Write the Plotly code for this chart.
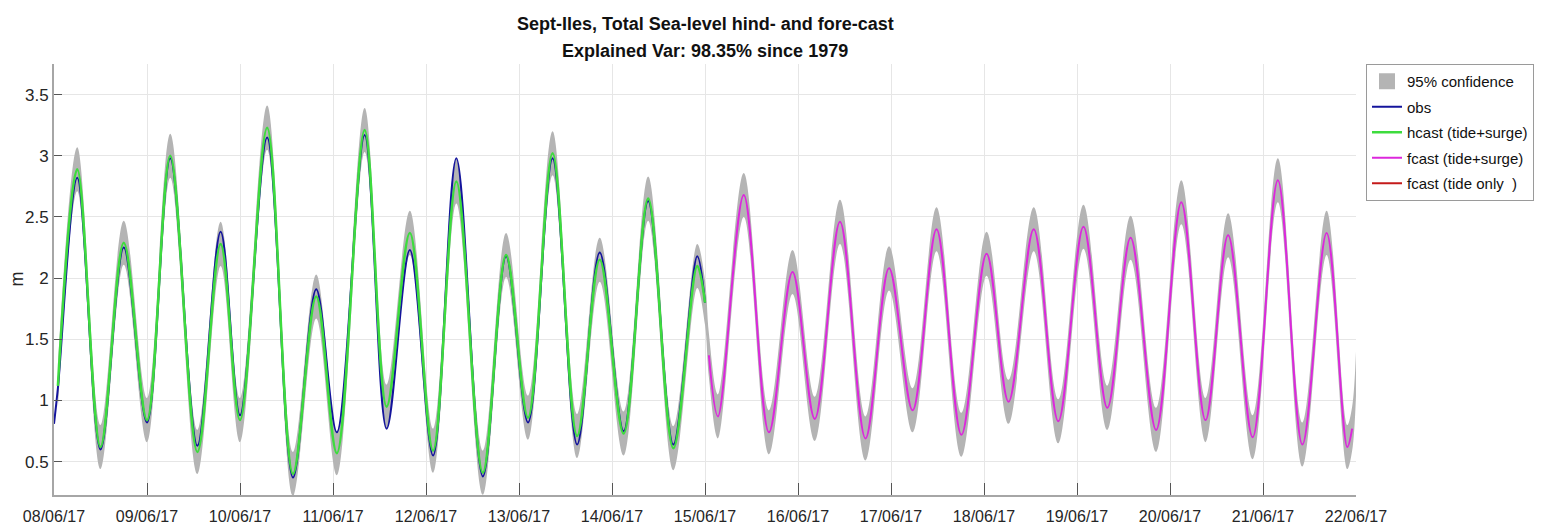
import plotly.graph_objects as go

# ---------------- data ----------------
obs_time = [
    "2017-06-08 00:00", "2017-06-08 01:00", "2017-06-08 06:00", "2017-06-08 12:00",
    "2017-06-08 18:00", "2017-06-09 00:00", "2017-06-09 06:00", "2017-06-09 13:00",
    "2017-06-09 19:00", "2017-06-10 00:00", "2017-06-10 07:00", "2017-06-10 13:40",
    "2017-06-10 19:40", "2017-06-11 01:00", "2017-06-11 08:10", "2017-06-11 13:50",
    "2017-06-11 19:50", "2017-06-12 01:50", "2017-06-12 07:50", "2017-06-12 14:40",
    "2017-06-12 20:40", "2017-06-13 02:20", "2017-06-13 08:40", "2017-06-13 15:00",
    "2017-06-13 20:50", "2017-06-14 03:00", "2017-06-14 09:20", "2017-06-14 15:50",
    "2017-06-14 22:00", "2017-06-15 00:00",
]
obs_m = [
    0.81, 1.10, 2.82, 0.60, 2.25, 0.82, 2.98, 0.63, 2.38, 0.88, 3.15, 0.37,
    1.91, 0.74, 3.17, 0.77, 2.23, 0.55, 2.98, 0.38, 2.18, 0.82, 2.98, 0.64,
    2.21, 0.75, 2.63, 0.64, 2.18, 1.80,
]

hcast_time = [
    "2017-06-08 01:00", "2017-06-08 06:00", "2017-06-08 12:00",
    "2017-06-08 18:00", "2017-06-09 00:00", "2017-06-09 06:00", "2017-06-09 13:00",
    "2017-06-09 19:00", "2017-06-10 00:00", "2017-06-10 07:00", "2017-06-10 13:40",
    "2017-06-10 19:40", "2017-06-11 01:00", "2017-06-11 08:10", "2017-06-11 13:50",
    "2017-06-11 19:50", "2017-06-12 01:50", "2017-06-12 07:50", "2017-06-12 14:40",
    "2017-06-12 20:40", "2017-06-13 02:20", "2017-06-13 08:40", "2017-06-13 15:00",
    "2017-06-13 20:50", "2017-06-14 03:00", "2017-06-14 09:20", "2017-06-14 15:50",
    "2017-06-14 22:00", "2017-06-15 00:00",
]
hcast_m = [
    1.12, 2.89, 0.62, 2.29, 0.84, 3.00, 0.58, 2.28, 0.84, 3.23, 0.40,
    1.85, 0.57, 3.21, 0.95, 2.37, 0.59, 2.79, 0.41, 2.19, 0.86, 3.02, 0.71,
    2.15, 0.73, 2.65, 0.61, 2.10, 1.80,
]

fcast_time = [
    "2017-06-15 01:00", "2017-06-15 03:20", "2017-06-15 10:00", "2017-06-15 16:30",
    "2017-06-15 22:35", "2017-06-16 04:20", "2017-06-16 10:50", "2017-06-16 17:25",
    "2017-06-16 23:30", "2017-06-17 05:35", "2017-06-17 11:45", "2017-06-17 18:10",
    "2017-06-18 00:40", "2017-06-18 06:20", "2017-06-18 12:50", "2017-06-18 19:10",
    "2017-06-19 01:40", "2017-06-19 07:50", "2017-06-19 13:50", "2017-06-19 20:25",
    "2017-06-20 02:55", "2017-06-20 09:10", "2017-06-20 15:00", "2017-06-20 21:20",
    "2017-06-21 03:50", "2017-06-21 10:10", "2017-06-21 16:25", "2017-06-21 21:45",
    "2017-06-21 23:00",
]
fcast_m = [
    1.37, 0.87, 2.68, 0.74, 2.05, 0.85, 2.46, 0.69, 2.08, 0.92, 2.40, 0.72,
    2.20, 0.99, 2.40, 0.83, 2.42, 0.94, 2.33, 0.76, 2.62, 0.84, 2.35, 0.70,
    2.80, 0.64, 2.37, 0.62, 0.77,
]

# last confidence-band sample (band extends one step beyond the forecast line)
band_end_time = ["2017-06-22 00:00"]
band_end_m = [1.22]
conf_half_width = 0.18  # half width of the 95% band (m)

x_tick_start = "2017-06-08 00:00"
x_tick_end = "2017-06-22 00:00"
y_ticks = [0.5, 1, 1.5, 2, 2.5, 3, 3.5]

title_line1 = "Sept-Iles, Total Sea-level hind- and fore-cast"
title_line2 = "Explained Var: 98.35% since 1979"

# ---------------- figure ----------------
FONT = "Liberation Sans, Arial, sans-serif"
# the page body has an 8px margin, so the figure is 8px smaller than the window
W, H = 1535, 520
ML, MR, MT, MB = 46, 187, 56, 33
PW = W - ML - MR
PH = H - MT - MB

band_time = hcast_time + fcast_time + band_end_time
band_center = hcast_m + fcast_m + band_end_m
band_lo = [v - conf_half_width for v in band_center]
band_hi = [v + conf_half_width for v in band_center]

GRAY = "#b4b4b4"
fig = go.Figure()

# legend-only swatch for the confidence band
fig.add_trace(go.Scatter(x=[None], y=[None], mode="markers", name="95% confidence",
                         marker=dict(symbol="square", size=16, color=GRAY),
                         legendgroup="g1", legendrank=1))
fig.add_trace(go.Scatter(x=band_time, y=band_lo, mode="lines", line=dict(width=0, shape="spline", color=GRAY),
                         showlegend=False, legendgroup="g1", hoverinfo="skip"))
fig.add_trace(go.Scatter(x=band_time, y=band_hi, mode="lines", line=dict(width=0, shape="spline", color=GRAY),
                         fill="tonexty", fillcolor=GRAY, showlegend=False, legendgroup="g1",
                         hoverinfo="skip"))

fig.add_trace(go.Scatter(x=obs_time, y=obs_m, mode="lines", name="obs", legendgroup="g2",
                         line=dict(color="#14149c", width=2, shape="spline"), legendrank=2))
fig.add_trace(go.Scatter(x=hcast_time, y=hcast_m, mode="lines", name="hcast (tide+surge)",
                         legendgroup="g3",
                         line=dict(color="#3ddc3d", width=2.5, shape="spline"), legendrank=3))
fig.add_trace(go.Scatter(x=fcast_time, y=fcast_m, mode="lines", name="fcast (tide+surge)",
                         legendgroup="g4",
                         line=dict(color="#dc28dc", width=2, shape="spline"), legendrank=4))
fig.add_trace(go.Scatter(x=[None], y=[None], mode="lines", name="fcast (tide only &nbsp;)",
                         legendgroup="g5",
                         line=dict(color="#c41a1a", width=2), legendrank=5))

fig.update_layout(
    width=W, height=H,
    margin=dict(l=ML, r=MR, t=MT, b=MB, autoexpand=False),
    paper_bgcolor="white", plot_bgcolor="white",
    font=dict(family=FONT, size=16, color="#262626"),
    showlegend=True,
    legend=dict(x=(1358 - ML) / PW, y=1.0, xanchor="left", yanchor="top",
                bgcolor="white", bordercolor="#9a9a9a", borderwidth=1,
                font=dict(family=FONT, size=15, color="#111"),
                itemwidth=30, tracegroupgap=3, traceorder="grouped"),
    xaxis=dict(
        type="date", range=[x_tick_start, x_tick_end],
        tickmode="linear", tick0=x_tick_start, dtick=86400000,
        tickformat="%d/%m/%y", showgrid=True, gridcolor="#e6e6e6", gridwidth=1,
        showline=True, linecolor="#a6a6a6", linewidth=2, mirror=False,
        ticks="inside", ticklen=12, tickcolor="#555", tickwidth=1,
        zeroline=False, ticklabelstandoff=6,
        tickfont=dict(size=16, family=FONT, color="#262626"),
    ),
    yaxis=dict(
        range=[0.228, 3.75], tickmode="array", tickvals=y_ticks,
        showgrid=True, gridcolor="#e6e6e6", gridwidth=1,
        showline=True, linecolor="#a6a6a6", linewidth=2,
        ticks="inside", ticklen=8, tickcolor="#555", tickwidth=1,
        zeroline=False, tickfont=dict(size=17, family=FONT, color="#262626"),
    ),
    annotations=[
        dict(text="<b>" + title_line1 + "</b>",
             xref="paper", yref="paper", x=0.5, y=1 + 39.5 / PH,
             xanchor="center", yanchor="middle", showarrow=False,
             font=dict(family=FONT, size=18, color="#111")),
        dict(text="<b>" + title_line2 + "</b>",
             xref="paper", yref="paper", x=0.5, y=1 + 13.5 / PH,
             xanchor="center", yanchor="middle", showarrow=False,
             font=dict(family=FONT, size=18, color="#111")),
        dict(text="m", xref="paper", yref="paper", x=(8 - ML) / PW, y=0.5,
             xanchor="center", yanchor="middle", textangle=-90, showarrow=False,
             borderpad=0,
             font=dict(family=FONT, size=18, color="#262626")),
    ],
)

fig.write_html("out.html")
